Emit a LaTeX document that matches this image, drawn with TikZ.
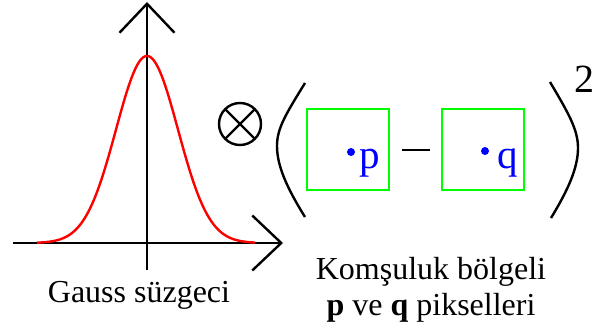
\documentclass[tikz,border=0pt]{standalone}
\usepackage{fontspec}
\setmainfont{Liberation Serif}
\usetikzlibrary{arrows.meta,positioning}

\begin{document}
\begin{tikzpicture}[x=1pt,y=-1pt,line width=2.4pt,
  axis/.style={-{Straight Barb[length=29pt,width=55pt]}},
  pixbox/.style={draw=green,minimum width=82pt,minimum height=81pt,inner sep=0pt,outer sep=0pt},
  dot/.style={circle,fill=blue,minimum size=8pt,inner sep=0pt},
  pix/.style={text=blue,font=\fontsize{41}{41}\selectfont,inner sep=0pt,anchor=base west},
  lbl/.style={font=\fontsize{32}{32}\selectfont,inner sep=0pt,anchor=base}]
\useasboundingbox (0,0) rectangle (594,331);
% Gauss filter
\coordinate (xl) at (13,243); \coordinate (xr) at (283,243);
\coordinate (yb) at (147,270); \coordinate (yt) at (147,2);
\draw[axis] (xl)--(xr);
\draw[axis] (yb)--(yt);
\draw[red,domain=-110:108,samples=120] plot ({\x+147},{243-187*exp(-(\x*\x)/(2*31*31))});
\node[lbl] (gauss) at (139,302) {Gauss süzgeci};
% convolution sign
\node[draw,circle,minimum size=42pt,inner sep=0pt,outer sep=0pt] (otimes) at (240,124) {};
\draw (otimes.north west)--(otimes.south east);
\draw (otimes.north east)--(otimes.south west);
% brackets
\draw (305,83) .. controls (286,114) and (277,128) .. (277,146) .. controls (277,166) and (287,188) .. (305,217);
\draw (550,82) .. controls (569,114) and (578,130) .. (578,148) .. controls (578,168) and (568,190) .. (551,218);
\node[font=\fontsize{40}{40}\selectfont,inner sep=0pt,anchor=base west] (sq) at (573,93) {2};
% neighbourhoods
\node[pixbox] (boxp) at (348,149.5) {};
\node[pixbox] (boxq) at (483,149.5) {};
\node[dot] (dotp) at (351,152) {};
\node[dot] (dotq) at (485,151) {};
\node[pix] (p) at (358,169) {p};
\node[pix] (q) at (496,169) {q};
\draw (402,150)--(430,150);
\node[lbl] (nbr) at (431,279) {Komşuluk bölgeli};
\node[lbl] (pq) at (431,315) {\textbf{p} ve \textbf{q} pikselleri};
\end{tikzpicture}
\end{document}
